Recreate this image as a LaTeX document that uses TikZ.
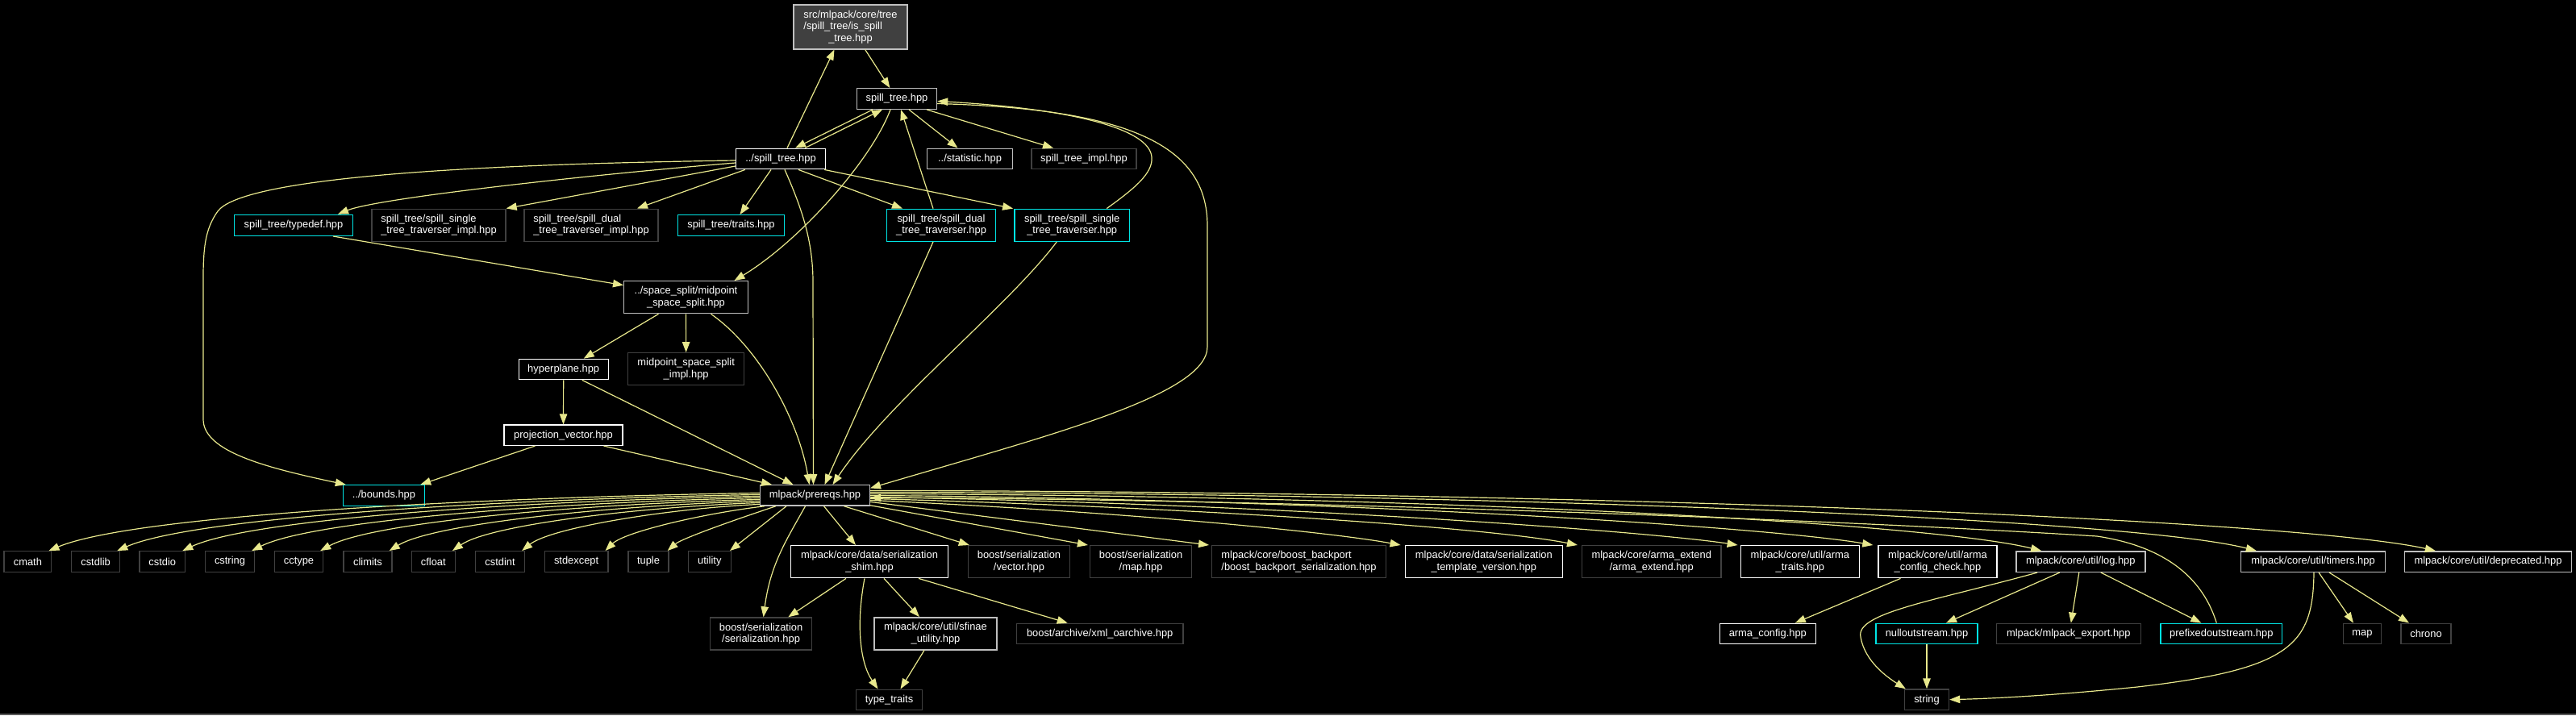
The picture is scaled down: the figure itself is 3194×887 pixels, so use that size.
\documentclass[tikz,border=0pt]{standalone}
\usepackage{fontspec}
\newfontfamily\dotfont{Liberation Sans}
\usetikzlibrary{arrows.meta,calc}
\definecolor{edgec}{RGB}{232,232,140}
\definecolor{wb}{RGB}{255,255,255}
\definecolor{gb}{RGB}{191,191,191}
\definecolor{db}{RGB}{64,64,64}
\definecolor{cb}{RGB}{0,228,228}
\definecolor{topfill}{RGB}{64,64,64}
\definecolor{rulec}{RGB}{90,90,90}
\tikzset{
 nd/.style={draw, fill=black, text=white, line width=1.4pt, inner sep=0pt, align=center,
   font=\dotfont\fontsize{12.9}{14.5}\selectfont},
 wn/.style={nd, draw=wb},
 gn/.style={nd, draw=gb},
 dn/.style={nd, draw=db},
 cn/.style={nd, draw=cb},
 s1/.style={minimum height=25.5pt},
 s2/.style={minimum height=40pt},
 e/.style={draw=edgec, line width=1.2pt, -{Triangle[length=13pt,width=9.5pt]}}
}
\begin{document}
\begin{tikzpicture}[x=1pt,y=-1pt]
\fill[black] (0,0) rectangle (3194,887);
\useasboundingbox (0,0) rectangle (3194,887);
\fill[rulec] (0,885) rectangle (3194,887);

% nodes
\node[gn, minimum width=141pt, minimum height=55pt, fill=topfill] (top) at (1054.5,33.3)
  {src/mlpack/core/tree\\\makebox[0pt][l]{/spill\_tree/is\_spill}\phantom{src/mlpack/core/tree}\\\_tree.hpp};
\node[gn, s1, minimum width=99pt] (st) at (1112,122.5) {spill\_tree.hpp};
\node[wn, s1, minimum width=111pt] (pst) at (968,197) {../spill\_tree.hpp};
\node[gn, s1, minimum width=106pt] (stat) at (1202.5,197) {../statistic.hpp};
\node[dn, s1, minimum width=130pt] (impl) at (1344,197) {spill\_tree\_impl.hpp};
\node[cn, minimum height=26pt, minimum width=147pt] (typedef) at (364,279.3) {spill\_tree/typedef.hpp};
\node[dn, s2, minimum width=166pt, align=left] (simpl) at (544,279.2) {spill\_tree/spill\_single\\\_tree\_traverser\_impl.hpp};
\node[dn, s2, minimum width=166pt, align=left] (dimpl) at (733,279.2) {spill\_tree/spill\_dual\\\_tree\_traverser\_impl.hpp};
\node[cn, s1, minimum width=132.4pt] (traits) at (906.5,279.5) {spill\_tree/traits.hpp};
\node[cn, s2, minimum width=135pt] (dtrav) at (1167,279.3) {spill\_tree/spill\_dual\\\_tree\_traverser.hpp};
\node[cn, s2, minimum width=142.8pt] (strav) at (1329.2,279.3) {spill\_tree/spill\_single\\\_tree\_traverser.hpp};
\node[gn, s2, minimum width=153.6pt] (mid) at (850.5,368.7) {../space\_split/midpoint\\\_space\_split.hpp};
\node[wn, minimum height=25.3pt, minimum width=111pt] (hyper) at (698.7,458) {hyperplane.hpp};
\node[dn, s2, minimum width=144pt] (midimpl) at (850.7,457.7) {midpoint\_space\_split\\\_impl.hpp};
\node[wn, minimum height=25.3pt, minimum width=147pt] (proj) at (698.5,539.7) {projection\_vector.hpp};
\node[cn, s1, minimum width=101pt] (bounds) at (476,614.5) {../bounds.hpp};
\node[gn, minimum height=25.3pt, minimum width=135.6pt] (pre) at (1010.5,614.4) {mlpack/prereqs.hpp};

\node[dn, s1, minimum width=58.7pt] (cmath) at (34.4,696.5) {cmath};
\node[dn, s1, minimum width=60pt] (cstdlib) at (118.6,696.5) {cstdlib};
\node[dn, s1, minimum width=56.8pt] (cstdio) at (201.2,696.5) {cstdio};
\node[dn, s1, minimum width=61pt] (cstring) at (285,696.5) {cstring};
\node[dn, s1, minimum width=60pt] (cctype) at (370.5,696.5) {cctype};
\node[dn, s1, minimum width=60pt] (climits) at (456,696.5) {climits};
\node[dn, s1, minimum width=54pt] (cfloat) at (537.3,696.5) {cfloat};
\node[dn, s1, minimum width=61pt] (cstdint) at (620,696.5) {cstdint};
\node[dn, s1, minimum width=78.4pt] (stdexcept) at (714.6,696.5) {stdexcept};
\node[dn, s1, minimum width=50pt] (tuple) at (804,696.5) {tuple};
\node[dn, s1, minimum width=53pt] (utility) at (879.8,696.5) {utility};

\node[wn, s2, minimum width=194.5pt] (shim) at (1078,696.7) {mlpack/core/data/serialization\\\_shim.hpp};
\node[dn, s2, minimum width=126pt] (vec) at (1263.5,696.7) {boost/serialization\\/vector.hpp};
\node[dn, s2, minimum width=126pt] (maph) at (1414.6,696.7) {boost/serialization\\/map.hpp};
\node[dn, s2, minimum width=215.5pt, align=left] (backport) at (1610.5,696.7) {mlpack/core/boost\_backport\\/boost\_backport\_serialization.hpp};
\node[wn, s2, minimum width=195pt] (tmplv) at (1839.8,696.7) {mlpack/core/data/serialization\\\_template\_version.hpp};
\node[dn, s2, minimum width=172.3pt] (armaext) at (2047.8,696.7) {mlpack/core/arma\_extend\\/arma\_extend.hpp};
\node[wn, s2, minimum width=147pt] (armatraits) at (2231.8,696.7) {mlpack/core/util/arma\\\_traits.hpp};
\node[wn, s2, minimum width=147pt] (armacc) at (2402.5,696.7) {mlpack/core/util/arma\\\_config\_check.hpp};
\node[gn, s1, minimum width=160pt] (log) at (2579.8,696.6) {mlpack/core/util/log.hpp};
\node[gn, s1, minimum width=179pt] (timers) at (2868,696.6) {mlpack/core/util/timers.hpp};
\node[gn, s1, minimum width=207pt] (deprecated) at (3085,696.6) {mlpack/core/util/deprecated.hpp};

\node[dn, s2, minimum width=126pt] (bser) at (943.6,786) {boost/serialization\\/serialization.hpp};
\node[gn, s2, minimum width=152pt] (sfinae) at (1160,785.8) {mlpack/core/util/sfinae\\\_utility.hpp};
\node[dn, minimum height=25.3pt, minimum width=206.7pt] (xml) at (1363.7,786) {boost/archive/xml\_oarchive.hpp};
\node[wn, s1, minimum width=119pt] (armaconfig) at (2191.8,786) {arma\_config.hpp};
\node[cn, s1, minimum width=125.7pt] (nullout) at (2389,786) {nulloutstream.hpp};
\node[dn, s1, minimum width=179pt] (export) at (2564.8,786) {mlpack/mlpack\_export.hpp};
\node[cn, s1, minimum width=150.8pt] (prefixed) at (2754.3,786) {prefixedoutstream.hpp};
\node[dn, s1, minimum width=47pt] (mapstd) at (2929,786) {map};
\node[dn, s1, minimum width=62pt] (chrono) at (3008,786) {chrono};
\node[dn, s1, minimum width=82pt] (typetraits) at (1102.5,868) {type\_traits};
\node[dn, s1, minimum width=55pt] (string) at (2389,867.7) {string};

% edges upper part
\draw[e] (top) -- (st);
\draw[e] ($(pst.north)+(8,0)$) -- ($(top.south)+(-20,0)$);
\draw[e] ($(st.south)+(-30,0)$) -- ($(pst.north)+(18,0)$);
\draw[e] ($(pst.north)+(30,0)$) -- ($(st.south)+(-18,0)$);
\draw[e] ($(st.south)+(15,0)$) -- ($(stat.north)+(-15,0)$);
\draw[e] ($(st.south)+(37,0)$) -- ($(impl.north)+(-38,0)$);
\draw[e] ($(st.south)+(-8,0)$) .. controls (1080,200) and (990,300) .. ($(mid.north)+(60,0)$);
\draw[e] ($(st.east)+(0,6)$) .. controls (1400,135) and (1497,180) .. (1497,280) -- (1497,430)
   .. controls (1497,490) and (1300,540) .. ($(pre.east)+(0,-9)$);
\draw[e] ($(dtrav.north)+(-10,0)$) -- ($(st.south)+(5,0)$);
\draw[e] ($(strav.north)+(43,0)$) .. controls (1405,235) and (1430,215) .. (1428,195)
   .. controls (1426,160) and (1330,135) .. ($(st.east)+(0,3)$);
\draw[e] ($(pst.west)+(0,5)$) .. controls (750,215) and (470,245) .. ($(typedef.north)+(55,0)$);
\draw[e] ($(pst.west)+(0,9)$) -- (simpl.north east);
\draw[e] ($(pst.south west)+(12,0)$) -- ($(dimpl.north)+(57,0)$);
\draw[e] ($(pst.south)+(-12,0)$) -- ($(traits.north)+(11,0)$);
\draw[e] ($(pst.south)+(22,0)$) -- ($(dtrav.north)+(-48,0)$);
\draw[e] ($(pst.south east)+(-2,0)$) -- ($(strav.north west)+(-1,0)$);
\draw[e] ($(pst.west)+(0,2)$) .. controls (560,204) and (300,222) .. (270,262)
   .. controls (250,290) and (252,320) .. (252,380) -- (252,520)
   .. controls (252,560) and (330,580) .. ($(bounds.north west)+(4,0)$);
\draw[e] ($(pst.south)+(5,0)$) .. controls (995,260) and (1008,300) .. (1008,350) -- ($(pre.north)+(-2,0)$);
\draw[e] ($(typedef.south)+(49,0)$) -- ($(mid.west)+(0,-15)$);
\draw[e] ($(mid.south)+(-34,0)$) -- ($(hyper.north)+(25,0)$);
\draw[e] (mid) -- (midimpl);
\draw[e] ($(mid.south)+(31,0)$) .. controls (940,430) and (990,520) .. ($(pre.north)+(-7,0)$);
\draw[e] (hyper) -- (proj);
\draw[e] ($(hyper.south)+(23,0)$) -- ($(pre.north)+(-27,0)$);
\draw[e] ($(proj.south)+(-35,0)$) -- ($(bounds.north east)+(-6,0)$);
\draw[e] ($(proj.south)+(50,0)$) -- ($(pre.north west)+(15,0)$);
\draw[e] ($(dtrav.south)+(-10,0)$) -- ($(pre.north)+(12,0)$);
\draw[e] ($(strav.south)+(-19,0)$) .. controls (1250,380) and (1100,500) .. ($(pre.north)+(22,0)$);

% fan to standard headers
\draw[e] ($(pre.west)+(0,-3)$) .. controls (590,617) and (166,639) .. ($(cmath.north east)+(-4,0)$);
\draw[e] ($(pre.west)+(0,-1)$) .. controls (624,619) and (241,641) .. ($(cstdlib.north east)+(-4,0)$);
\draw[e] ($(pre.west)+(0,1)$) .. controls (656,621) and (312,643) .. ($(cstdio.north east)+(-4,0)$);
\draw[e] ($(pre.west)+(0,3)$) .. controls (691,623) and (388,645) .. ($(cstring.north east)+(-4,0)$);
\draw[e] ($(pre.west)+(0,5)$) .. controls (725,625) and (463,647) .. ($(cctype.north east)+(-4,0)$);
\draw[e] ($(pre.west)+(0,7)$) .. controls (759,627) and (538,649) .. ($(climits.north east)+(-4,0)$);
\draw[e] ($(pre.west)+(0,9)$) .. controls (790,629) and (607,651) .. ($(cfloat.north east)+(-4,0)$);
\draw[e] ($(pre.west)+(0,11)$) .. controls (824,631) and (682,655) .. ($(cstdint.north east)+(-4,0)$);
\draw[e] ($(pre.south west)+(6,0)$) .. controls (870,637) and (774,660) .. ($(stdexcept.north east)+(-4,0)$);
\draw[e] ($(pre.south west)+(20,0)$) .. controls (910,645) and (845,668) .. ($(tuple.north east)+(-2,0)$);
\draw[e] ($(pre.south west)+(33,0)$) -- ($(utility.north east)+(-2,0)$);

% fan to the right
\draw[e] ($(pre.south)+(-12,0)$) .. controls (975,670) and (955,700) .. ($(bser.north)+(3,0)$);
\draw[e] ($(pre.south)+(11,0)$) -- ($(shim.north)+(-17,0)$);
\draw[e] ($(pre.south)+(36,0)$) -- ($(vec.north west)+(2,0)$);
\draw[e] ($(pre.south east)+(0,-1)$) -- ($(maph.north west)+(-2,0)$);
\draw[e] ($(pre.east)+(0,8)$) -- ($(backport.north west)+(-3,0)$);
\draw[e] ($(pre.east)+(0,6)$) .. controls (1400,635) and (1650,660) .. ($(tmplv.north west)+(-5,0)$);
\draw[e] ($(pre.east)+(0,4)$) .. controls (1500,630) and (1850,655) .. ($(armaext.north west)+(-5,0)$);
\draw[e] ($(pre.east)+(0,2)$) .. controls (1600,625) and (2050,660) .. ($(armatraits.north west)+(-3,0)$);
\draw[e] (pre.east) .. controls (1700,620) and (2200,655) .. ($(armacc.north west)+(-6,0)$);
\draw[e] ($(pre.east)+(0,-2)$) .. controls (1800,615) and (2400,650) .. ($(log.north west)+(32,0)$);
\draw[e] ($(pre.east)+(0,-4)$) .. controls (1900,612) and (2650,645) .. ($(timers.north west)+(20,0)$);
\draw[e] ($(pre.east)+(0,-6)$) .. controls (2000,610) and (2850,645) .. ($(deprecated.north west)+(39,0)$);
\draw[e] ($(prefixed.north)+(-6,0)$) .. controls (2735,730) and (2700,680) .. (2600,665)
   .. controls (2200,640) and (1500,618) .. ($(pre.east)+(0,3)$);

% lower part
\draw[e] ($(shim.south)+(-29,0)$) -- ($(bser.north east)+(-30,0)$);
\draw[e] ($(shim.south)+(-6,0)$) .. controls (1062,770) and (1065,820) .. ($(typetraits.north)+(-14,0)$);
\draw[e] ($(shim.south)+(18,0)$) -- ($(sfinae.north)+(-20,0)$);
\draw[e] ($(shim.south)+(61,0)$) -- ($(xml.north)+(-40,0)$);
\draw[e] ($(sfinae.south)+(-14,0)$) -- ($(typetraits.north)+(14,0)$);
\draw[e] ($(armacc.south)+(-46,0)$) -- ($(armaconfig.north)+(34,0)$);
\draw[e] ($(log.south west)+(27,0)$) .. controls (2400,745) and (2300,760) .. (2307,790)
   .. controls (2312,820) and (2340,840) .. ($(string.north west)+(2,0)$);
\draw[e] ($(log.south)+(-26,0)$) -- ($(nullout.north)+(24,0)$);
\draw[e] ($(log.south)+(-2,0)$) -- ($(export.north)+(3,0)$);
\draw[e] ($(log.south)+(25,0)$) -- ($(prefixed.north)+(-25,0)$);
\draw[e] (nullout) -- (string);
\draw[e] ($(timers.south)+(1,0)$) .. controls (2868,800) and (2840,830) .. (2650,852)
   .. controls (2550,862) and (2480,866) .. (string.east);
\draw[e] ($(timers.south)+(7,0)$) -- ($(mapstd.north)+(-11,0)$);
\draw[e] ($(timers.south)+(20,0)$) -- ($(chrono.north)+(-21,0)$);
\end{tikzpicture}
\end{document}
